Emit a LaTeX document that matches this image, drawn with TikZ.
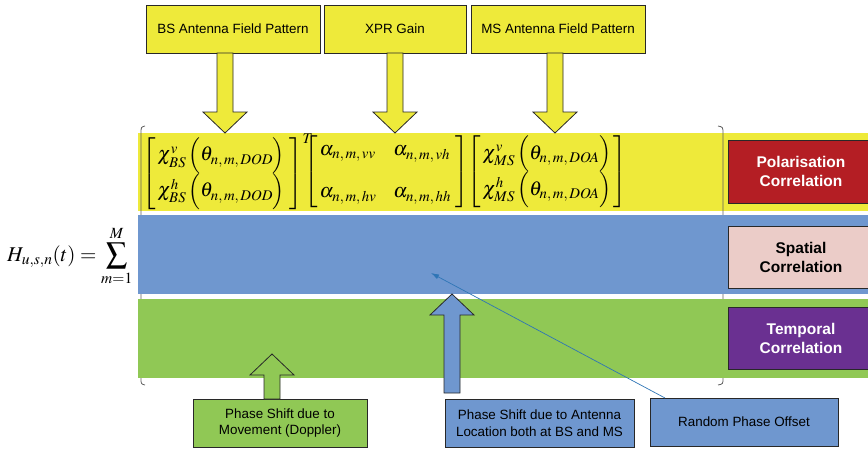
\documentclass[tikz,border=0pt]{standalone}
\usepackage{mathptmx}
\usepackage[no-math]{fontspec}
\setmainfont{Liberation Sans}
\usetikzlibrary{calc,arrows.meta}

\definecolor{bandyellow}{RGB}{238,234,58}
\definecolor{bandblue}{RGB}{111,151,207}
\definecolor{bandgreen}{RGB}{144,200,85}
\definecolor{polred}{RGB}{180,30,36}
\definecolor{spatpink}{RGB}{235,204,200}
\definecolor{temppurple}{RGB}{106,48,145}
\definecolor{linkblue}{RGB}{46,117,182}
\definecolor{edgegray}{RGB}{40,40,40}
\definecolor{parengray}{RGB}{95,95,95}

\tikzset{
  band/.style={rectangle, inner sep=0pt, outer sep=0pt, anchor=north west},
  labelbox/.style={rectangle, draw=edgegray, line width=0.9pt, inner sep=0pt,
    outer sep=0pt, anchor=north west, align=center,
    font=\fontsize{13.4}{16.5}\selectfont},
  corrbox/.style={labelbox, font=\fontsize{15.5}{19}\selectfont\bfseries},
  blockarrow/.style={draw=edgegray, line width=0.8pt, line join=miter},
  mathtext/.style={inner sep=0pt, font=\fontsize{20}{24}\selectfont},
  parenline/.style={draw=parengray, line width=0.8pt},
}

% widely spaced subscript list, as set by the equation editor
\newcommand\sublist[3]{#1,\,#2,\,#3}
% antenna field pattern entry: polarisation, side, angle
\newcommand\fieldentry[3]{\chi^{#1}_{#2}\,\Bigl(\theta_{\sublist{n}{m}{#3}}\Bigr)}

% block arrow pointing down: fill, shaft start, tip
\newcommand\blockdown[3]{%
  \filldraw[blockarrow, fill=#1] let \p1=(#2), \p2=(#3) in
    (\x1-8pt,\y1) -- (\x1-8pt,\y2+21pt) -- (\x1-22pt,\y2+21pt) -- (\x1,\y2)
    -- (\x1+22pt,\y2+21pt) -- (\x1+8pt,\y2+21pt) -- (\x1+8pt,\y1) -- cycle;}
% block arrow pointing up: fill, shaft start, tip
\newcommand\blockup[3]{%
  \filldraw[blockarrow, fill=#1] let \p1=(#2), \p2=(#3) in
    (\x1-8pt,\y1) -- (\x1-8pt,\y2-21pt) -- (\x1-22pt,\y2-21pt) -- (\x1,\y2)
    -- (\x1+22pt,\y2-21pt) -- (\x1+8pt,\y2-21pt) -- (\x1+8pt,\y1) -- cycle;}

\begin{document}
\begin{tikzpicture}[x=1pt, y=-1pt]
  \path[use as bounding box, clip] (0,0) rectangle (868,450);

  % polarisation band and the big parentheses behind the other bands
  \node[band, fill=bandyellow, minimum width=732pt, minimum height=78pt] (polband) at (138,133) {};
  \draw[parenline] (145,126) .. controls (141,127) .. (141,134) -- (141,378)
    .. controls (141,384) .. (145,385);
  \draw[parenline] (718,126) .. controls (723,127) .. (723,134) -- (723,378)
    .. controls (723,384) .. (718,385);
  \node[band, fill=bandblue, minimum width=732pt, minimum height=79pt] (spatband) at (138,215) {};
  \node[band, fill=bandgreen, minimum width=732pt, minimum height=79pt] (tempband) at (138,299) {};

  % correlation labels on the right
  \node[corrbox, fill=polred, text=white, minimum width=146pt, minimum height=63pt] (polcorr) at (728,140) {Polarisation\\Correlation};
  \node[corrbox, fill=spatpink, text=black, minimum width=146pt, minimum height=62pt] (spatcorr) at (728,226) {Spatial\\Correlation};
  \node[corrbox, fill=temppurple, text=white, minimum width=146pt, minimum height=62pt] (tempcorr) at (728,307) {Temporal\\Correlation};

  % channel coefficient
  \node[mathtext, font=\fontsize{21}{25}\selectfont, anchor=west] (hsum) at (7,256)
    {$\displaystyle H_{u,s,n}(t)=\sum_{m=1}^{M}$};
  \node[mathtext, anchor=west] (bsvec) at (142,172)
    {$\left[\begin{array}{@{\,}c@{\;}}
      \fieldentry{v}{BS}{DOD}\\[4pt]
      \fieldentry{h}{BS}{DOD}\end{array}\right]^{T}$};
  \node[mathtext, anchor=west] (xprmat) at (304,172)
    {$\left[\begin{array}{@{\,}l@{\hspace{17pt}}l@{\;}}
      \alpha_{\sublist{n}{m}{vv}} & \alpha_{\sublist{n}{m}{vh}}\\[18pt]
      \alpha_{\sublist{n}{m}{hv}} & \alpha_{\sublist{n}{m}{hh}}\end{array}\right]$};
  \node[mathtext, anchor=west] (msvec) at (467,172)
    {$\left[\begin{array}{@{\,}c@{\,}}
      \fieldentry{v}{MS}{DOA}\\[4pt]
      \fieldentry{h}{MS}{DOA}\end{array}\right]$};

  % inputs at the top
  \node[labelbox, fill=bandyellow, minimum width=174pt, minimum height=48pt] (bs) at (146,5) {BS Antenna Field Pattern};
  \node[labelbox, fill=bandyellow, minimum width=142pt, minimum height=48pt] (xpr) at (324,5) {XPR Gain};
  \node[labelbox, fill=bandyellow, minimum width=174pt, minimum height=48pt] (ms) at (471,5) {MS Antenna Field Pattern};

  % inputs at the bottom
  \node[labelbox, fill=bandgreen, minimum width=174pt, minimum height=48pt] (mov) at (193,399) {Phase Shift due to\\Movement (Doppler)};
  \node[labelbox, fill=bandblue, minimum width=189pt, minimum height=48pt] (ant) at (445,399) {Phase Shift due to Antenna\\Location both at BS and MS};
  \node[labelbox, fill=bandblue, minimum width=188pt, minimum height=48pt] (rnd) at (650,398) {Random Phase Offset};

  % arrow anchors
  \coordinate (bsfoot) at ($(bs.south)+(-8,0)$);
  \coordinate (xprfoot) at (xpr.south);
  \coordinate (msfoot) at ($(ms.south)+(-3,0)$);
  \coordinate (movfoot) at ($(mov.north)+(-8,0)$);
  \coordinate (movtip) at ($(movfoot)+(0,-45)$);
  \coordinate (antfoot) at ($(ant.north west)+(7,-6)$);
  \coordinate (rndfoot) at ($(rnd.north west)+(15,0)$);
  \coordinate (rndtip) at (431,273);

  \blockdown{bandyellow}{bsfoot}{bsfoot |- polband.north}
  \blockdown{bandyellow}{xprfoot}{xprfoot |- polband.north}
  \blockdown{bandyellow}{msfoot}{msfoot |- polband.north}
  \blockup{bandgreen}{movfoot}{movtip}
  \blockup{bandblue}{antfoot}{antfoot |- spatband.south}

  \draw[linkblue, line width=0.7pt, -{Latex[length=8pt,width=5pt]}] (rndfoot) -- (rndtip);
\end{tikzpicture}
\end{document}
